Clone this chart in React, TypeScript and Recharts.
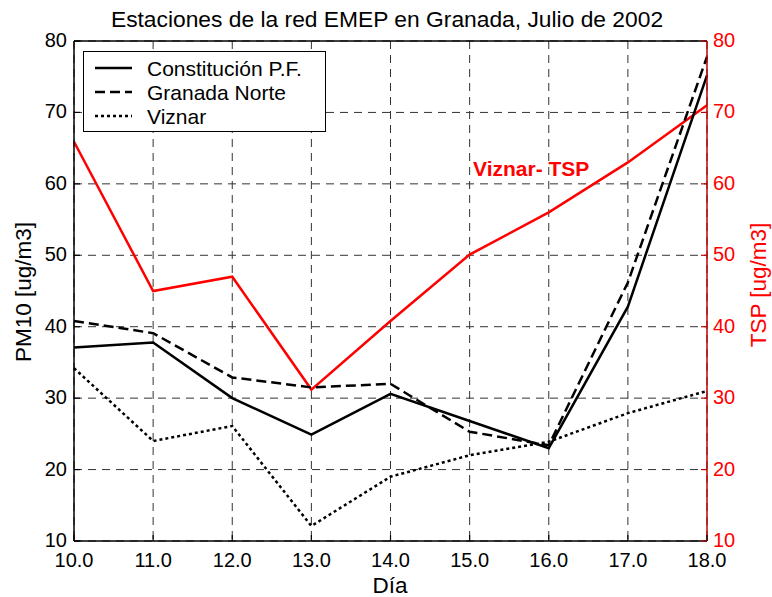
import React from 'react';
import {
  LineChart,
  Line,
  XAxis,
  YAxis,
  CartesianGrid,
  Legend,
  ReferenceLine,
} from 'recharts';

// Daily PM10 / TSP at the Granada EMEP stations, July 2002
const days = [10, 11, 12, 13, 14, 15, 16, 17, 18];
const constitucion = [37.1, 37.8, 30.0, 24.9, 30.6, 26.8, 23.0, 42.8, 75.2];
const granadaNorte = [40.8, 39.1, 32.9, 31.5, 32.0, 25.3, 23.4, 46.2, 77.8];
const viznar = [34.2, 24.0, 26.1, 12.1, 19.0, 22.0, 23.9, 27.9, 31.0];
const viznarTsp = [65.9, 45.0, 47.0, 31.2, 40.8, 50.1, 56.0, 63.0, 71.0];

const pmTicks = [10, 20, 30, 40, 50, 60, 70, 80];
const dayTicks = [10, 11, 12, 13, 14, 15, 16, 17, 18];

const data = days.map((d, i) => ({
  day: d,
  constitucion: constitucion[i],
  granadaNorte: granadaNorte[i],
  viznar: viznar[i],
  tsp: viznarTsp[i],
}));

const FONT = '"Liberation Sans", Arial, Helvetica, sans-serif';
const RED = '#ff0000';
const DARK_RED = '#c00000';

const pmSeries = [
  { key: 'constitucion', name: 'Constitución P.F.', dash: undefined as string | undefined },
  { key: 'granadaNorte', name: 'Granada Norte', dash: '10 5' },
  { key: 'viznar', name: 'Viznar', dash: '3 3' },
];

const BottomTick = (props: any) => {
  const { x, y, payload } = props;
  return (
    <g>
      <line x1={x} x2={x} y1={y} y2={y - 6} stroke="#000" strokeWidth={1.2} />
      <text x={x} y={y + 26} textAnchor="middle" fontSize={20} fontFamily={FONT} fill="#000">
        {Number(payload.value).toFixed(1)}
      </text>
    </g>
  );
};

const LeftTick = (props: any) => {
  const { x, y, payload } = props;
  return (
    <g>
      <line x1={x} x2={x + 6} y1={y} y2={y} stroke="#000" strokeWidth={1.2} />
      <text x={x - 7} y={y + 6} textAnchor="end" fontSize={20} fontFamily={FONT} fill="#000">
        {payload.value}
      </text>
    </g>
  );
};

const RightTick = (props: any) => {
  const { x, y, payload } = props;
  return (
    <g>
      <line x1={x} x2={x - 6} y1={y} y2={y} stroke={DARK_RED} strokeWidth={1.2} />
      <text x={x + 6} y={y + 6} textAnchor="start" fontSize={20} fontFamily={FONT} fill={RED}>
        {payload.value}
      </text>
    </g>
  );
};

const renderLegend = () => (
  <svg width={243} height={81} style={{ display: 'block' }}>
    <rect x={0.5} y={0.5} width={242} height={80} fill="#fff" stroke="#000" strokeWidth={1} />
    {pmSeries.map((s, i) => {
      const cy = 17 + i * 24;
      return (
        <g key={s.key}>
          <line x1={12} x2={49} y1={cy} y2={cy} stroke="#000" strokeWidth={2.5} strokeDasharray={s.dash} />
          <text x={64} y={cy + 7.5} fontSize={21} fontFamily={FONT} fill="#000">
            {s.name}
          </text>
        </g>
      );
    })}
  </svg>
);

export default function App() {
  return (
    <div style={{ position: 'absolute', left: 0, top: 0, width: 772, height: 597, background: '#fff' }}>
      <LineChart
        width={772}
        height={597}
        data={data}
        margin={{ top: 41, right: 0, left: 0, bottom: 0 }}
      >
        <CartesianGrid
          yAxisId="left"
          stroke="#333"
          strokeDasharray="8 6"
          strokeWidth={1}
          horizontalValues={pmTicks}
          verticalValues={dayTicks}
        />
        <XAxis
          dataKey="day"
          type="number"
          domain={[10, 18]}
          ticks={dayTicks}
          height={56}
          tickSize={0}
          tickMargin={0}
          tick={<BottomTick />}
          axisLine={{ stroke: '#000', strokeWidth: 1.5 }}
          tickLine={false}
          interval={0}
        />
        <YAxis
          yAxisId="left"
          domain={[10, 80]}
          ticks={pmTicks}
          width={74}
          tickSize={0}
          tickMargin={0}
          tick={<LeftTick />}
          axisLine={{ stroke: '#000', strokeWidth: 1.5 }}
          tickLine={false}
          interval={0}
        />
        <YAxis
          yAxisId="right"
          orientation="right"
          domain={[10, 80]}
          ticks={pmTicks}
          width={65}
          tickSize={0}
          tickMargin={0}
          tick={<RightTick />}
          axisLine={{ stroke: DARK_RED, strokeWidth: 1.5 }}
          tickLine={false}
          interval={0}
        />
        <ReferenceLine yAxisId="left" y={80} stroke="#000" strokeWidth={1.5} />
        <Line
          yAxisId="right"
          dataKey="tsp"
          name="Viznar- TSP"
          stroke={RED}
          strokeWidth={2.5}
          dot={false}
          type="linear"
          isAnimationActive={false}
        />
        {pmSeries.map((s) => (
          <Line
            key={s.key}
            yAxisId="left"
            dataKey={s.key}
            name={s.name}
            stroke="#000"
            strokeWidth={2.5}
            strokeDasharray={s.dash}
            dot={false}
            type="linear"
            isAnimationActive={false}
          />
        ))}
        <Legend
          layout="horizontal"
          verticalAlign="middle"
          align="center"
          content={renderLegend}
          wrapperStyle={{ position: 'absolute', left: 83, top: 51, width: 243, height: 81 }}
        />
      </LineChart>
      <svg
        width={772}
        height={597}
        style={{ position: 'absolute', left: 0, top: 0, pointerEvents: 'none' }}
      >
        <text x={387} y={27} textAnchor="middle" fontSize={22.8} fontFamily={FONT} fill="#000">
          Estaciones de la red EMEP en Granada, Julio de 2002
        </text>
        <text x={390} y={593} textAnchor="middle" fontSize={22.5} fontFamily={FONT} fill="#000">
          Día
        </text>
        <text
          transform="translate(31,292) rotate(-90)"
          textAnchor="middle"
          fontSize={22.5}
          fontFamily={FONT}
          fill="#000"
        >
          PM10 [ug/m3]
        </text>
        <text
          transform="translate(766,285) rotate(-90)"
          textAnchor="middle"
          fontSize={22.5}
          fontFamily={FONT}
          fill={RED}
        >
          TSP [ug/m3]
        </text>
        <text x={473} y={176} fontSize={21} fontWeight="bold" fontFamily={FONT} fill={RED}>
          Viznar- TSP
        </text>
      </svg>
    </div>
  );
}
